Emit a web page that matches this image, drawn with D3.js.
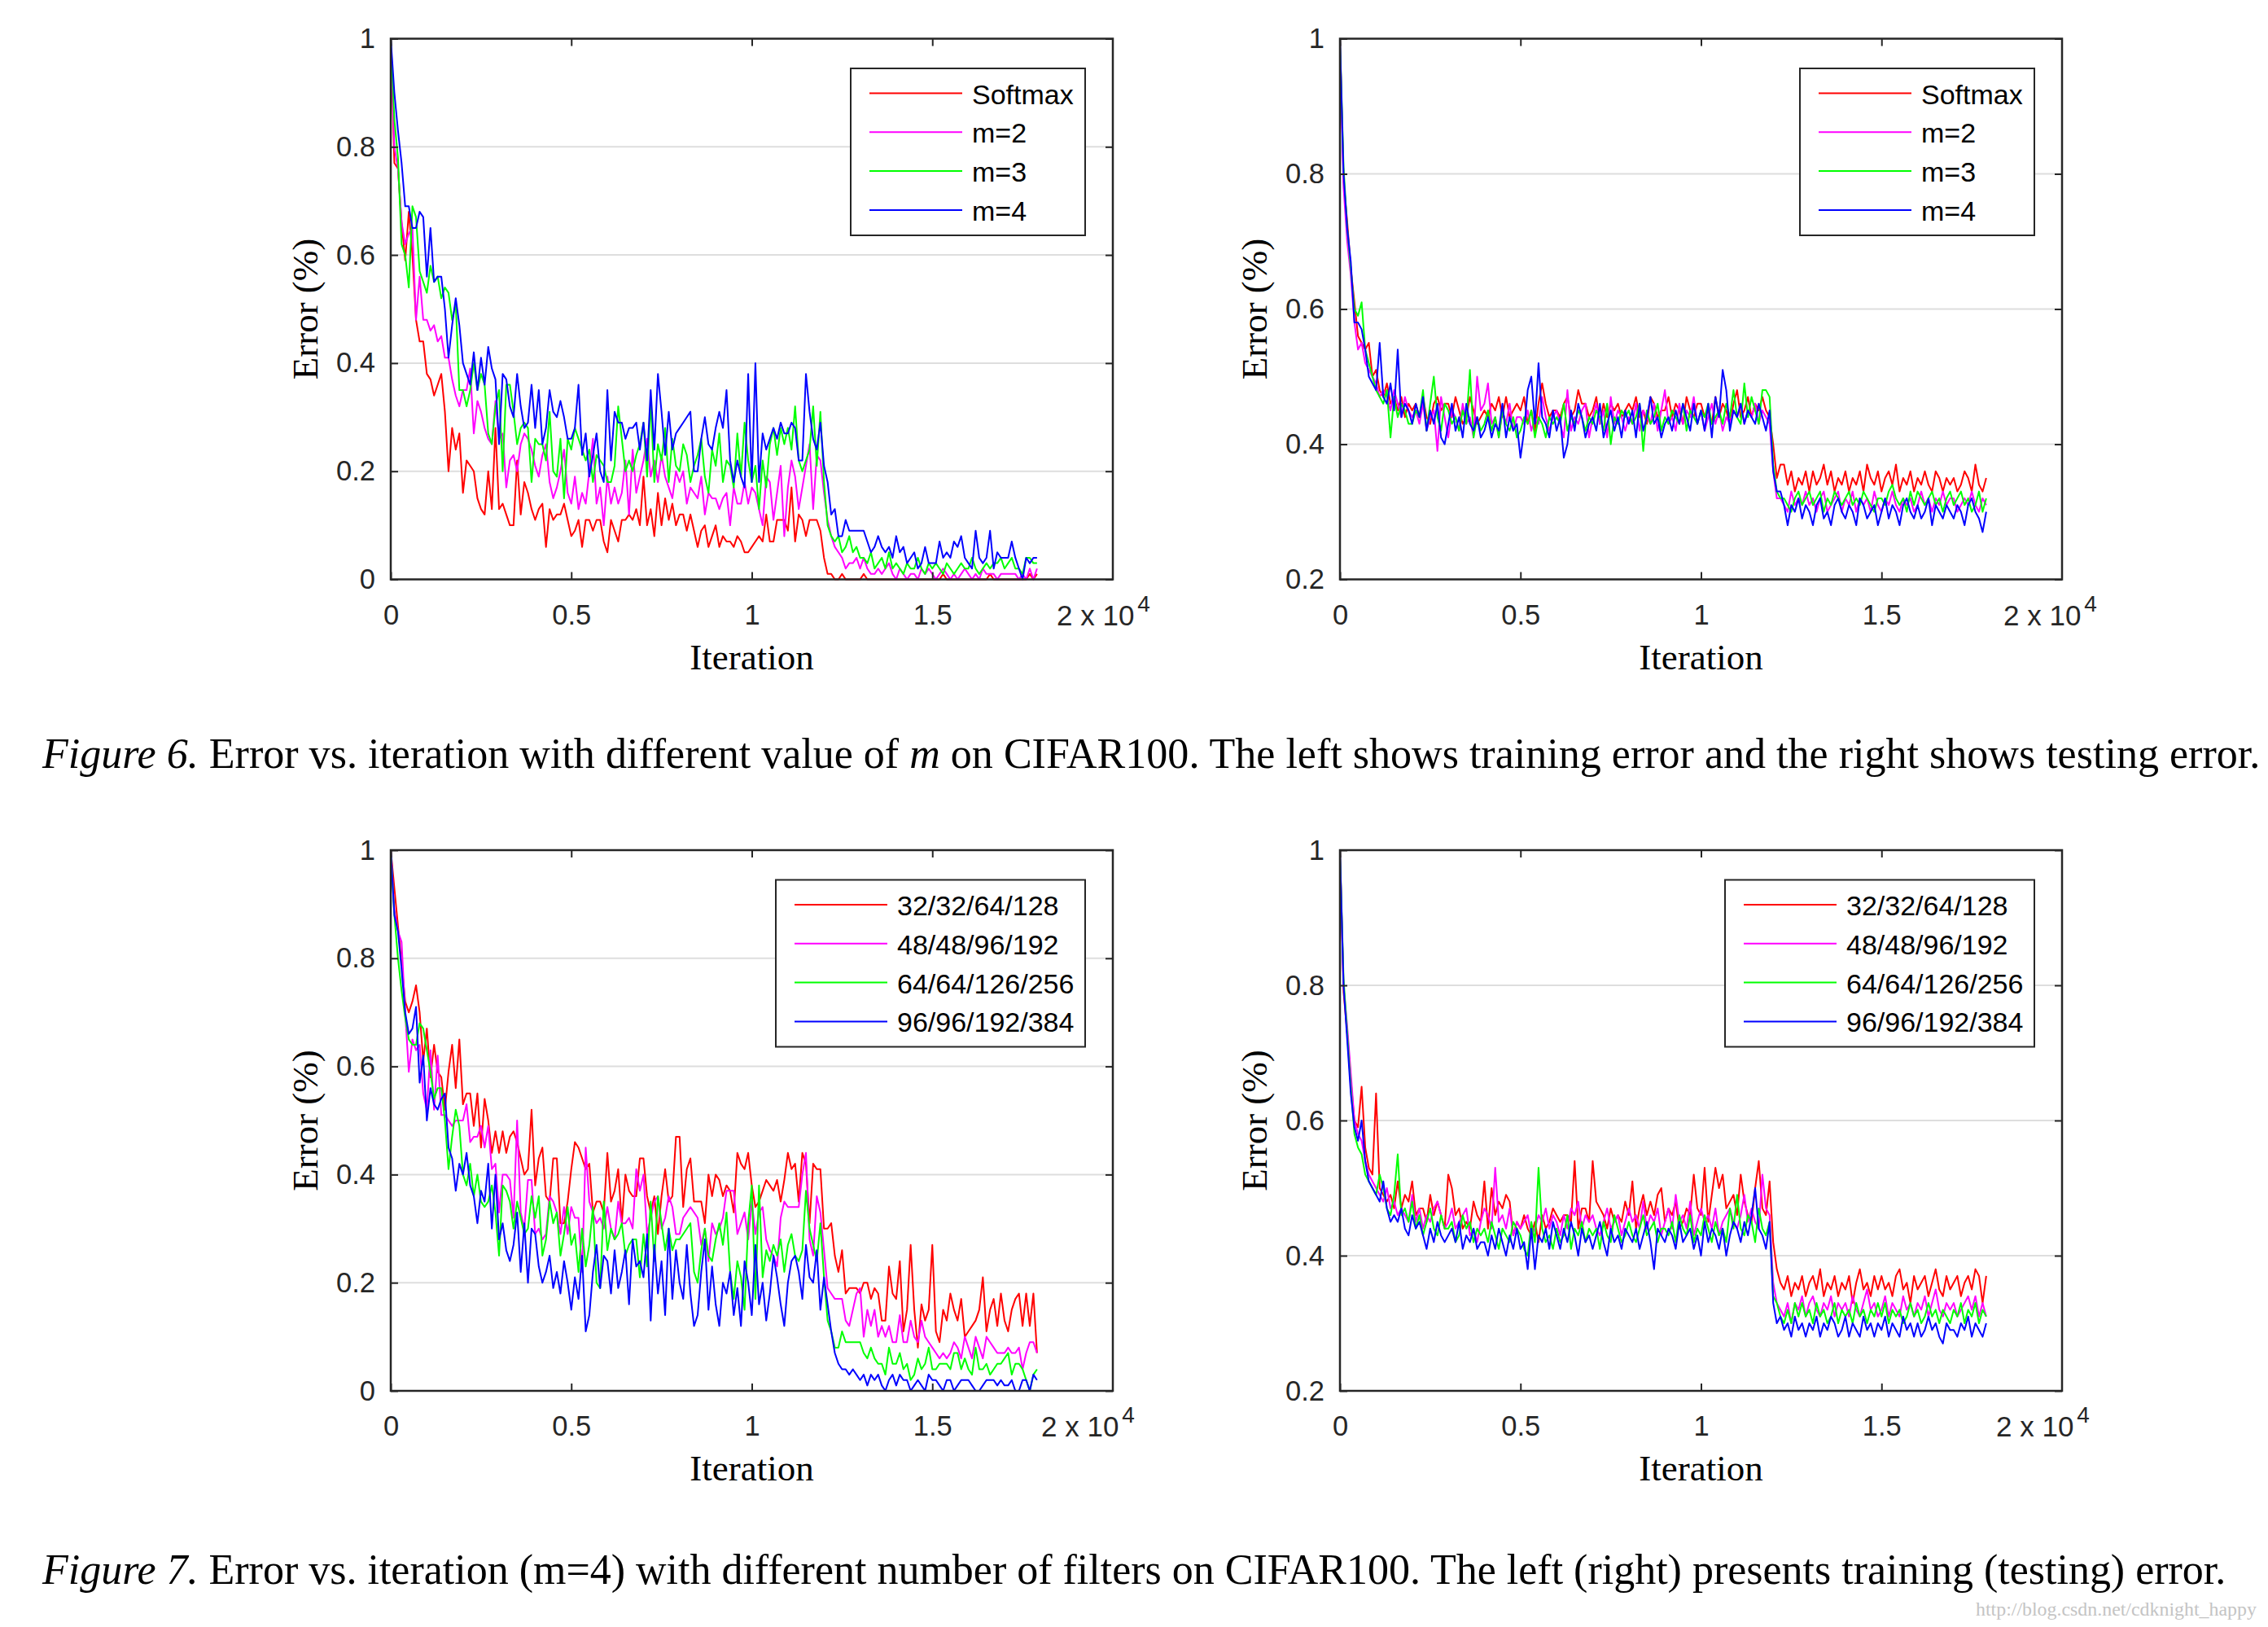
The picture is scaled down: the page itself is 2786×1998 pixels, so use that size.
<!DOCTYPE html>
<html><head><meta charset="utf-8">
<script src="https://cdn.jsdelivr.net/npm/d3@7"></script>
<style>body{margin:0;background:#fff} svg{display:block} text{white-space:pre}</style>
</head><body>
<svg id="chart" width="2786" height="1998"></svg>
<script>
// ---------- data (error values in hundredths, one value every 100 iterations, 0..17900) ----------
const iterStep = 100;
const xTickValues = [0, 5000, 10000, 15000];
const xTickLabels = ["0", "0.5", "1", "1.5"];
const yTicksTrain = [0, 0.2, 0.4, 0.6, 0.8, 1];
const yTicksTest = [0.2, 0.4, 0.6, 0.8, 1];
const legendM = ["Softmax", "m=2", "m=3", "m=4"];
const legendFilters = ["32/32/64/128", "48/48/96/192", "64/64/126/256", "96/96/192/384"];
const seriesColors = ["#ff0000", "#ff00ff", "#00ff00", "#0000ff"];

// Figure 6 left: training error
const trainSoftmax = [
100,77,76,66,59,68,60,48,44,44,
38,37,34,36,38,31,20,28,24,27,
16,22,21,20,15,13,12,20,13,28,
13,14,12,10,10,22,12,18,16,13,
11,13,14,6,13,11,12,12,14,11,
8,9,11,6,11,11,9,11,11,7,
5,11,9,7,11,11,12,11,13,10,
19,10,13,8,16,10,15,11,14,10,
12,12,9,12,9,6,9,10,6,8,
10,6,8,7,7,6,8,7,5,5,
6,7,8,7,12,7,7,11,11,11,
9,17,7,12,11,8,11,11,11,9,
4,1,1,0,0,1,0,0,0,0,
0,1,0,0,0,0,0,0,0,0,
0,0,0,0,0,0,0,0,0,0,
0,0,0,1,0,0,0,0,0,0,
0,0,0,0,0,0,1,0,0,0,
0,0,0,0,0,0,0,1,0,1];
const trainM2 = [
100,80,76,66,62,64,65,48,56,48,
48,46,47,44,45,41,41,37,34,32,
35,35,39,27,33,31,28,26,25,33,
26,27,17,22,23,20,25,27,26,24,
21,19,23,25,18,15,17,20,24,16,
14,19,13,16,14,20,26,14,17,10,
19,14,17,14,16,22,12,24,16,19,
22,26,19,22,18,23,19,17,15,20,
18,20,14,17,16,15,19,12,16,15,
15,13,15,16,10,17,14,14,18,14,
17,16,13,10,19,18,11,16,21,8,
17,22,19,13,17,21,25,13,23,22,
16,11,8,6,5,4,2,3,3,4,
2,4,2,1,1,2,1,2,3,1,
0,2,1,0,1,1,0,2,1,2,
1,0,1,2,1,0,1,0,1,2,
1,0,1,0,2,1,1,1,0,1,
1,1,1,1,0,1,0,2,0,2];
const trainM3 = [
100,85,78,62,60,54,69,67,57,55,
53,58,55,56,52,54,53,48,51,35,
35,32,35,40,35,38,36,27,25,32,
35,20,36,36,31,25,28,29,28,18,
26,25,25,22,31,20,19,26,15,26,
24,28,26,24,22,24,18,23,22,21,
18,18,21,32,26,20,22,20,23,25,
29,19,33,18,25,22,28,18,26,21,
20,25,23,18,21,23,26,19,16,24,
21,27,18,22,21,17,27,19,29,22,
18,21,13,22,17,25,28,23,28,25,
28,24,32,22,20,22,24,32,21,31,
18,10,8,7,8,5,6,8,5,6,
4,4,3,5,2,3,4,2,5,2,
3,2,1,3,2,2,4,2,1,3,
2,3,2,1,3,2,1,2,3,2,
2,4,2,1,2,3,2,3,3,4,
2,3,4,2,2,1,4,4,3,3];
const trainM4 = [
100,90,83,77,69,69,65,65,68,67,
56,65,55,56,56,50,41,47,52,47,
40,38,36,42,35,41,36,43,39,37,
25,38,37,32,30,38,32,28,29,36,
28,35,25,28,35,31,30,33,30,26,
26,28,36,23,27,19,23,27,20,18,
35,22,31,29,29,26,28,28,29,24,
29,22,35,24,38,31,23,31,24,27,
28,29,30,31,20,20,26,30,25,24,
28,31,28,35,22,18,22,19,17,38,
18,40,18,27,24,26,28,26,29,27,
27,29,28,22,22,38,31,26,24,29,
21,18,12,13,8,8,11,9,9,9,
9,9,7,5,6,8,6,5,6,4,
8,5,6,3,4,5,2,3,6,3,
3,3,7,4,5,4,7,6,8,4,
3,2,9,4,3,4,9,2,5,4,
4,4,7,4,2,0,4,3,4,4];

// Figure 6 right: testing error
const testSoftmax = [
100,79,73,66,61,56,55,54,55,50,
51,48,47,49,46,47,45,47,44,46,
45,46,44,47,44,43,46,47,45,46,
46,44,47,45,43,44,47,45,43,44,
45,44,46,45,47,44,47,44,45,46,
45,47,43,45,42,46,49,46,44,45,
45,44,46,47,44,45,48,46,46,44,
45,47,43,46,44,46,45,46,44,45,
46,45,47,44,45,43,47,46,44,45,
45,47,44,46,45,43,47,45,44,46,
46,44,45,43,47,44,46,45,43,46,
48,44,45,47,44,46,45,47,45,44,
40,35,37,37,34,36,33,35,34,36,
33,36,34,35,37,34,36,33,35,34,
36,33,35,34,36,33,37,35,34,36,
33,35,36,34,37,33,35,34,36,33,
35,34,36,34,33,36,35,33,35,34,
35,33,34,36,35,33,37,34,33,35];
const testM2 = [
100,78,70,65,58,54,55,52,51,50,
49,47,48,47,45,48,46,44,47,45,
44,45,43,46,42,44,45,39,47,44,
41,45,44,42,46,43,44,41,50,45,
46,49,43,44,41,45,43,46,42,44,
44,43,45,42,44,43,47,44,42,44,
45,43,41,48,42,44,43,45,46,41,
44,46,43,45,41,47,43,45,44,42,
44,43,46,42,45,44,43,46,42,45,
48,43,44,42,46,43,45,44,47,43,
45,42,44,46,43,45,42,44,43,45,
44,46,43,45,44,46,43,45,44,43,
36,32,32,31,30,33,31,32,31,33,
31,32,30,32,33,30,31,32,33,30,
32,31,33,30,32,31,32,30,33,31,
30,32,31,33,31,30,32,31,32,30,
31,33,31,32,30,32,31,33,31,32,
32,30,31,32,31,33,31,30,32,31];
const testM3 = [
100,81,72,66,60,59,61,54,52,50,
48,47,46,48,41,47,44,46,45,43,
43,45,44,48,42,46,50,44,42,46,
45,43,44,42,45,43,51,41,44,42,
43,45,42,44,41,45,43,42,44,41,
42,44,43,45,41,44,43,41,44,43,
44,43,46,42,44,43,45,44,42,44,
43,45,44,42,46,40,44,43,45,44,
45,43,44,46,39,45,43,44,46,42,
44,43,45,44,43,46,42,45,44,43,
45,44,46,43,44,45,43,46,44,48,
44,43,49,44,47,45,43,48,48,47,
37,33,32,32,31,30,32,33,31,32,
33,31,32,33,30,32,31,33,32,31,
32,33,31,32,31,33,32,31,30,32,
32,31,33,34,32,31,32,30,33,31,
33,32,31,32,33,31,32,30,32,33,
31,32,33,31,32,30,31,33,30,32];
const testM4 = [
100,80,72,67,58,58,57,54,50,49,
48,55,47,46,49,45,54,44,46,45,
43,46,44,47,42,45,43,46,41,40,
43,46,42,44,41,46,43,42,44,41,
42,44,41,43,42,46,41,44,42,43,
38,42,48,50,43,52,44,43,41,45,
42,44,38,40,45,42,46,44,41,43,
44,42,46,41,43,45,42,44,41,45,
43,45,41,46,42,44,47,43,44,41,
43,44,42,45,43,46,44,42,46,43,
45,42,46,41,47,44,51,48,42,45,
44,46,43,45,44,43,46,44,42,45,
36,33,33,31,28,31,30,32,29,31,
30,28,31,32,29,30,28,31,32,30,
29,31,30,28,32,31,29,30,31,28,
30,32,29,31,30,28,31,32,30,29,
31,29,30,32,28,31,30,29,31,30,
29,31,30,28,31,32,30,29,27,30];

// Figure 7 left: training error, filter numbers
const trainF1 = [
100,93,86,79,72,70,72,75,70,61,
67,58,64,59,58,52,59,64,56,65,
53,55,55,49,55,45,54,50,44,48,
44,48,44,47,48,46,43,40,41,52,
38,43,45,36,35,43,43,31,31,35,
41,46,45,43,41,42,33,35,35,33,
44,35,37,41,31,40,37,36,36,43,
43,36,33,36,29,36,41,35,36,47,
47,34,41,43,35,35,35,31,40,36,
40,39,36,38,37,33,44,42,41,44,
38,34,35,37,39,38,37,39,35,39,
44,41,42,35,44,42,31,42,41,41,
30,30,31,25,22,26,18,19,19,19,
18,20,20,17,19,18,13,13,23,18,
17,24,11,15,27,15,8,16,13,15,
27,11,9,15,13,18,15,13,17,10,
11,12,13,15,21,11,15,17,12,18,
13,11,15,17,18,12,18,12,18,7];
const trainF2 = [
100,89,85,83,70,59,65,63,64,55,
52,63,52,62,51,51,50,49,50,50,
50,53,46,47,47,49,45,49,41,42,
33,40,40,39,32,50,33,30,39,39,
29,30,28,29,36,35,33,29,34,29,
34,32,32,22,45,35,33,31,32,30,
34,30,28,35,31,31,32,30,41,37,
40,29,32,35,36,30,32,36,34,29,
29,32,33,34,33,32,27,30,24,31,
29,30,32,37,37,37,29,31,33,28,
35,29,33,34,28,26,25,23,32,35,
34,34,34,34,40,44,28,25,36,33,
26,19,18,17,17,17,13,12,15,18,
19,10,15,12,15,10,12,10,12,9,
9,14,9,9,13,10,9,13,10,9,
8,7,6,7,6,7,9,8,6,10,
8,6,10,8,6,10,9,8,7,7,
7,8,7,7,8,4,7,9,9,7];
const trainF3 = [
100,88,80,74,69,65,64,64,68,67,
63,59,54,56,56,50,41,47,52,49,
40,38,42,36,40,35,34,35,38,33,
25,38,37,35,30,35,32,29,30,36,
32,36,25,28,35,31,33,25,29,34,
27,29,22,30,23,27,34,20,19,35,
26,30,28,29,31,25,27,28,28,21,
29,23,35,24,36,31,26,30,26,28,
28,29,30,31,22,20,26,30,25,24,
28,31,27,33,22,17,24,21,15,31,
38,17,38,21,26,24,27,25,28,22,
27,29,25,24,26,37,30,27,24,31,
21,13,11,8,8,11,9,9,9,9,
9,7,6,8,6,5,5,3,8,5,
5,7,4,5,2,3,6,4,5,8,
4,4,5,5,5,4,7,7,4,6,
4,3,8,4,4,5,3,4,5,5,
6,7,3,5,5,4,2,0,3,4];
const trainF4 = [
100,88,85,78,70,66,67,71,57,62,
50,56,53,52,54,55,45,43,37,42,
40,44,38,36,31,37,35,42,30,40,
28,31,26,24,27,33,22,31,20,30,
29,23,20,22,25,19,22,18,24,20,
15,21,17,25,11,14,22,27,19,25,
24,18,26,19,22,26,16,28,23,24,
21,29,13,27,18,24,14,30,17,26,
20,17,27,18,12,14,22,28,15,23,
16,12,20,18,22,14,19,12,24,20,
14,27,16,20,13,18,25,21,16,12,
20,24,25,22,17,27,21,20,26,15,
21,16,11,7,5,4,4,3,4,3,
2,3,1,3,2,3,1,0,2,3,
1,3,2,2,0,1,2,1,0,3,
2,2,1,0,2,2,0,1,2,2,
2,1,0,0,1,2,2,2,1,2,
1,1,2,0,0,2,2,0,3,2];

// Figure 7 right: testing error, filter numbers
const testF1 = [
100,79,73,66,60,59,65,56,53,52,
64,50,49,48,49,47,51,47,49,48,
51,46,47,47,45,49,46,48,46,44,
52,50,46,47,44,45,44,48,46,45,
51,44,50,46,48,47,49,48,43,45,
44,46,44,43,45,42,46,44,45,47,
46,45,46,46,45,54,44,47,47,45,
54,48,47,46,44,47,45,46,45,48,
46,51,44,47,49,46,48,46,49,50,
45,47,46,48,44,45,47,46,52,47,
46,53,45,49,53,50,52,47,48,49,
46,52,48,46,45,50,54,47,46,51,
42,38,36,35,37,34,36,35,37,34,
36,37,35,38,34,36,35,37,34,36,
35,37,33,36,38,35,36,34,37,35,
37,35,36,34,37,38,35,36,33,37,
35,36,37,34,36,38,35,34,37,35,
36,37,34,36,37,35,38,37,33,37];
const testF2 = [
100,80,74,67,60,58,57,54,52,51,
50,49,48,50,47,48,46,47,46,45,
49,45,47,44,46,45,47,48,46,44,
45,47,44,45,46,47,43,44,42,45,
47,46,44,53,45,46,44,47,43,45,
44,45,46,43,44,46,45,47,44,46,
45,43,46,44,47,46,48,44,46,45,
46,44,43,45,47,44,45,46,43,45,
47,45,46,44,48,44,46,45,47,43,
45,47,44,49,45,46,44,48,43,45,
47,45,46,44,47,43,45,46,47,45,
44,46,49,45,47,45,44,52,47,46,
36,33,32,31,33,30,33,32,34,31,
33,34,32,31,33,32,34,31,33,32,
33,31,34,32,31,33,35,32,33,31,
32,34,31,33,32,31,34,32,33,31,
33,32,34,31,33,35,32,31,33,32,
33,31,32,33,34,32,34,31,33,31];
const testF3 = [
100,81,73,65,58,56,55,52,51,50,
49,52,50,47,46,49,55,46,47,45,
48,44,46,43,45,47,44,43,46,44,
44,45,42,43,46,44,45,42,44,43,
44,42,45,43,41,44,43,42,45,44,
43,41,40,45,42,53,44,42,43,41,
44,42,43,46,41,44,43,45,42,44,
43,44,41,45,43,42,46,44,42,43,
45,43,42,44,46,43,44,45,42,44,
44,43,45,42,46,44,43,46,42,44,
43,46,44,42,45,43,44,42,47,44,
49,44,43,46,45,42,47,44,43,45,
34,33,31,30,32,30,33,31,33,31,
32,30,33,31,32,30,31,33,30,32,
31,32,30,33,31,32,30,32,31,33,
31,33,30,32,31,32,30,31,33,31,
32,30,31,33,31,32,30,32,31,30,
32,31,33,30,32,31,33,30,32,31];
const testF4 = [
100,80,72,64,59,57,60,54,51,50,
49,48,51,47,45,46,45,47,44,43,
46,44,45,43,41,44,42,45,43,42,
43,44,42,45,41,43,42,44,41,42,
42,40,43,41,44,42,40,43,41,44,
41,42,38,44,38,43,42,44,41,45,
43,41,44,42,45,43,40,44,42,43,
41,43,45,42,40,44,42,43,41,44,
43,42,44,41,43,45,42,38,44,43,
42,44,43,41,45,42,43,44,41,43,
40,45,42,44,43,41,44,40,43,45,
44,42,45,43,46,50,44,43,41,45,
33,30,31,29,30,28,31,29,30,28,
30,29,31,28,30,29,31,30,28,29,
31,28,30,29,28,31,29,30,28,30,
29,31,28,30,29,28,31,29,30,28,
30,28,29,31,29,30,28,27,30,29,
29,28,30,29,31,28,30,29,28,30];

const caption1 = [{t:"Figure 6.", i:true}, {t:" Error vs. iteration with different value of "}, {t:"m", i:true}, {t:" on CIFAR100. The left shows training error and the right shows testing error."}];
const caption2 = [{t:"Figure 7.", i:true}, {t:" Error vs. iteration (m=4) with different number of filters on CIFAR100. The left (right) presents training (testing) error."}];
const watermark = "http://blog.csdn.net/cdknight_happy";

// ---------- drawing ----------
const SANS = "'Liberation Sans', Arial, Helvetica, sans-serif";
const SERIF = "'Liberation Serif', 'Times New Roman', Times, serif";
const AX = "#262626";
const svg = d3.select("#chart");
svg.append("rect").attr("width", 2786).attr("height", 1998).attr("fill", "#fff");

function drawPanel(p) {
  const g = svg.append("g");
  const x = d3.scaleLinear().domain([0, 20000]).range([p.left, p.right]);
  const y = d3.scaleLinear().domain(p.yDomain).range([p.bottom, p.top]);

  // grid
  g.selectAll("line.grid").data(p.yTicks.filter(t => t > p.yDomain[0] && t < p.yDomain[1]))
    .join("line").attr("class", "grid")
    .attr("x1", p.left).attr("x2", p.right)
    .attr("y1", d => y(d)).attr("y2", d => y(d))
    .attr("stroke", "#dedede").attr("stroke-width", 2);

  // series
  const line = d3.line().x((d, i) => x(i * iterStep)).y(d => y(d / 100));
  p.series.forEach((s, i) => {
    g.append("path").datum(s).attr("d", line)
      .attr("fill", "none").attr("stroke", seriesColors[i])
      .attr("stroke-width", 2).attr("stroke-linejoin", "round");
  });

  const style = sel => {
    sel.select(".domain").remove();
    sel.attr("color", AX);
    sel.selectAll("line").attr("stroke-width", 2);
    sel.selectAll("text").attr("font-family", SANS).attr("font-size", 34.5).attr("fill", AX);
  };
  g.append("g").attr("transform", `translate(0,${p.bottom})`)
    .call(d3.axisBottom(x).tickValues(xTickValues).tickSizeInner(-9).tickSizeOuter(0)
      .tickPadding(31).tickFormat((d, i) => xTickLabels[i])).call(style);
  g.append("g").attr("transform", `translate(0,${p.top})`)
    .call(d3.axisTop(x).tickValues(xTickValues).tickSizeInner(-9).tickSizeOuter(0).tickFormat(""))
    .call(style);
  g.append("g").attr("transform", `translate(${p.left},0)`)
    .call(d3.axisLeft(y).tickValues(p.yTicks).tickSizeInner(-9).tickSizeOuter(0)
      .tickPadding(19).tickFormat(d3.format("~g"))).call(style);
  g.append("g").attr("transform", `translate(${p.right},0)`)
    .call(d3.axisRight(y).tickValues(p.yTicks).tickSizeInner(-9).tickSizeOuter(0).tickFormat(""))
    .call(style);

  // box
  g.append("rect").attr("x", p.left).attr("y", p.top)
    .attr("width", p.right - p.left).attr("height", p.bottom - p.top)
    .attr("fill", "none").attr("stroke", AX).attr("stroke-width", 2.5);

  // exponent label
  const mt = g.append("text").attr("x", p.right + p.multDx).attr("y", p.bottom + 56)
    .attr("font-family", SANS).attr("font-size", 35).attr("fill", AX).text("2 x 10");
  mt.append("tspan").attr("font-size", 28).attr("dx", 4).attr("dy", -17).text("4");

  // axis titles
  g.append("text").attr("x", (p.left + p.right) / 2).attr("y", p.bottom + 110)
    .attr("text-anchor", "middle").attr("font-family", SERIF).attr("font-size", 45)
    .attr("fill", "#000").text("Iteration");
  g.append("text").attr("transform", `translate(${p.left - 90},${(p.top + p.bottom) / 2}) rotate(-90)`)
    .attr("text-anchor", "middle").attr("font-family", SERIF).attr("font-size", 45)
    .attr("fill", "#000").text("Error (%)");

  // legend
  const lg = g.append("g").attr("transform", `translate(${p.right - 34 - p.legendW},${p.top + 36.5})`);
  lg.append("rect").attr("width", p.legendW).attr("height", 205)
    .attr("fill", "#fff").attr("stroke", AX).attr("stroke-width", 2);
  p.labels.forEach((lab, i) => {
    const ry = 30.5 + i * 47.8;
    lg.append("line").attr("x1", 23).attr("x2", 137).attr("y1", ry).attr("y2", ry)
      .attr("stroke", seriesColors[i]).attr("stroke-width", 2);
    lg.append("text").attr("x", 149).attr("y", ry + 13).attr("font-family", SANS)
      .attr("font-size", 34).attr("fill", "#000").text(lab);
  });
}

drawPanel({left: 480, right: 1367, top: 47.5, bottom: 711.5, yDomain: [0, 1], yTicks: yTicksTrain,
  series: [trainSoftmax, trainM2, trainM3, trainM4], labels: legendM, legendW: 288, multDx: -69});
drawPanel({left: 1646, right: 2533, top: 47.5, bottom: 711.5, yDomain: [0.2, 1], yTicks: yTicksTest,
  series: [testSoftmax, testM2, testM3, testM4], labels: legendM, legendW: 288, multDx: -72});
drawPanel({left: 480, right: 1367, top: 1044, bottom: 1708, yDomain: [0, 1], yTicks: yTicksTrain,
  series: [trainF1, trainF2, trainF3, trainF4], labels: legendFilters, legendW: 380, multDx: -88});
drawPanel({left: 1646, right: 2533, top: 1044, bottom: 1708, yDomain: [0.2, 1], yTicks: yTicksTest,
  series: [testF1, testF2, testF3, testF4], labels: legendFilters, legendW: 380, multDx: -81});

function caption(parts, x0, x1, yb) {
  const t = svg.append("text").attr("x", x0).attr("y", yb)
    .attr("font-family", SERIF).attr("font-size", 50).attr("fill", "#000");
  parts.forEach(p => t.append("tspan").attr("font-style", p.i ? "italic" : null).text(p.t));
  const w = t.node().getComputedTextLength();
  t.attr("font-size", 50 * (x1 - x0) / w);
}
caption(caption1, 52, 2777, 943);
caption(caption2, 52, 2735, 1945);

const wm = svg.append("text").attr("x", 2427).attr("y", 1984)
  .attr("font-family", SERIF).attr("font-size", 20).attr("fill", "#c4c4c4").text(watermark);
const ww = wm.node().getComputedTextLength();
wm.attr("font-size", 20 * 345 / ww);
</script>
</body></html>
